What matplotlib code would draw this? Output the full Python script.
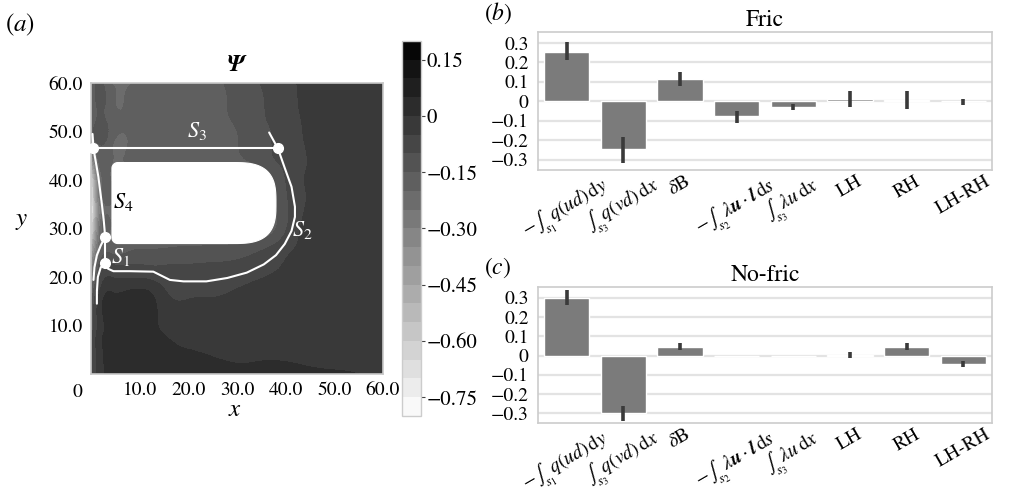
import numpy as np
import matplotlib
matplotlib.use("Agg")
import matplotlib.pyplot as plt
import matplotlib.tri as mtri
from matplotlib.patches import Polygon

plt.rcParams["font.family"] = ["STIXGeneral", "DejaVu Serif"]
plt.rcParams["mathtext.fontset"] = "stix"
plt.rcParams["axes.unicode_minus"] = True

# ---------------- panel (a): stream function field ----------------
grid_x = [0, 1.5, 4, 8, 12, 16, 20, 25, 30, 35, 40, 45, 50, 55, 60]
grid_y = [0, 4, 8, 12, 16, 19, 22, 26, 30, 35, 40, 44, 48, 52, 56, 60]

# rows follow grid_y (bottom to top), columns follow grid_x
psi_rows = [
    [-0.10, -0.03, 0.010, 0.020, 0.016, 0.014, 0.012, 0.010, 0.008, 0.008, 0.008, 0.006, 0.004, 0.000, -0.010],
    [-0.11, -0.03, 0.012, 0.022, 0.018, 0.012, 0.005, -0.002, -0.008, -0.006, -0.006, -0.010, -0.013, -0.016, -0.020],
    [-0.12, -0.03, 0.012, 0.022, 0.015, -0.004, -0.012, -0.017, -0.020, -0.020, -0.020, -0.020, -0.020, -0.020, -0.020],
    [-0.14, -0.035, 0.012, 0.022, 0.015, -0.020, -0.022, -0.022, -0.020, -0.020, -0.020, -0.020, -0.020, -0.020, -0.020],
    [-0.18, -0.05, 0.010, 0.020, 0.012, -0.048, -0.056, -0.052, -0.040, -0.030, -0.025, -0.020, -0.020, -0.020, -0.020],
    [-0.25, -0.10, -0.030, -0.035, -0.040, -0.072, -0.078, -0.072, -0.060, -0.045, -0.032, -0.023, -0.020, -0.020, -0.020],
    [-0.35, -0.15, -0.085, -0.090, -0.095, -0.095, -0.095, -0.092, -0.085, -0.068, -0.045, -0.030, -0.022, -0.020, -0.020],
    [-0.50, -0.25, -0.170, -0.160, -0.155, -0.150, -0.145, -0.140, -0.135, -0.110, -0.065, -0.033, -0.025, -0.022, -0.020],
    [-0.70, -0.30, -0.200, -0.200, -0.200, -0.200, -0.200, -0.200, -0.200, -0.200, -0.105, -0.030, -0.025, -0.022, -0.020],
    [-0.78, -0.35, -0.200, -0.200, -0.200, -0.200, -0.200, -0.200, -0.200, -0.200, -0.110, -0.043, -0.028, -0.022, -0.020],
    [-0.70, -0.30, -0.200, -0.200, -0.200, -0.200, -0.200, -0.200, -0.200, -0.200, -0.100, -0.045, -0.030, -0.022, -0.020],
    [-0.40, -0.20, -0.190, -0.180, -0.180, -0.180, -0.178, -0.172, -0.162, -0.128, -0.085, -0.047, -0.028, -0.022, -0.020],
    [-0.20, -0.14, -0.180, -0.195, -0.195, -0.190, -0.178, -0.168, -0.152, -0.118, -0.078, -0.043, -0.028, -0.022, -0.020],
    [-0.19, -0.14, -0.165, -0.180, -0.185, -0.175, -0.168, -0.162, -0.145, -0.110, -0.072, -0.040, -0.027, -0.022, -0.020],
    [-0.19, -0.14, -0.180, -0.185, -0.170, -0.168, -0.165, -0.160, -0.140, -0.105, -0.068, -0.037, -0.026, -0.022, -0.020],
    [-0.20, -0.14, -0.195, -0.205, -0.175, -0.170, -0.166, -0.158, -0.135, -0.098, -0.065, -0.035, -0.025, -0.022, -0.020],
]

psi_levels = np.arange(-0.80, 0.2001, 0.05)
cbar_ticks = [0.15, 0.0, -0.15, -0.30, -0.45, -0.60, -0.75]

# island (land) outline parameters
island_left, island_right = 4.3, 38.0
island_bottom, island_top = 26.9, 43.6

# sections S1..S4 and the streamline tails
s3_x = [0.5, 38.4]
s3_y = [46.5, 46.5]
s2_x = [36.6, 38.4, 39.8, 41.2, 41.9, 41.9, 41.2, 39.8, 38.0, 35.5, 32.0, 28.0, 23.7, 19.0, 16.2, 14.2, 12.8, 8.0, 4.6, 3.5, 2.9]
s2_y = [49.8, 46.5, 42.5, 38.6, 34.5, 32.4, 29.5, 26.8, 24.5, 22.6, 20.9, 19.8, 19.1, 19.1, 19.4, 20.4, 21.1, 21.2, 21.2, 21.7, 22.8]
s1_x = [2.9, 2.9]
s1_y = [22.8, 28.3]
s4_x = [2.9, 2.6, 2.2, 1.5, 0.5, 0.3]
s4_y = [28.3, 31.8, 35.2, 40.7, 46.5, 49.5]
tail_a_x = [2.9, 2.0, 1.2, 0.7, 0.5]
tail_a_y = [28.3, 26.5, 24.5, 22.0, 19.4]
tail_b_x = [2.9, 2.0, 1.4, 1.2, 1.2]
tail_b_y = [22.8, 22.0, 20.0, 17.0, 14.5]
node_x = [0.5, 38.4, 2.9, 2.9]
node_y = [46.5, 46.5, 28.3, 22.8]

section_labels = ["$S_1$", "$S_2$", "$S_3$", "$S_4$"]
section_label_x = [6.0, 43.4, 21.7, 6.6]
section_label_y = [24.2, 29.7, 50.2, 35.5]
section_label_colors = ["white", "white", "white", "black"]

# ---------------- panels (b), (c): budget terms ----------------
terms = [
    r"$-\int_{s_1}q(ud)\,\mathrm{d}y$",
    r"$\int_{s_3}q(vd)\,\mathrm{d}x$",
    r"$\delta$B",
    r"$-\int_{s_2}\lambda\mathbfit{u}\cdot\mathbfit{l}\,\mathrm{d}s$",
    r"$\int_{s_3}\lambda u\,\mathrm{d}x$",
    "LH",
    "RH",
    "LH-RH",
]
fric_mean = [0.255, -0.245, 0.113, -0.077, -0.030, 0.010, 0.007, 0.002]
fric_lo = [0.213, -0.317, 0.080, -0.113, -0.045, -0.030, -0.037, -0.017]
fric_hi = [0.303, -0.183, 0.153, -0.050, -0.013, 0.053, 0.053, 0.013]

nofric_mean = [0.300, -0.298, 0.045, 0.0, 0.0, 0.001, 0.045, -0.043]
nofric_lo = [0.262, -0.341, 0.029, np.nan, np.nan, -0.014, 0.029, -0.060]
nofric_hi = [0.340, -0.264, 0.064, np.nan, np.nan, 0.016, 0.064, -0.028]

bar_yticks = [0.3, 0.2, 0.1, 0.0, -0.1, -0.2, -0.3]


def fmt_tick(v, decimals):
    if abs(v) < 1e-9:
        return "0"
    s = f"{abs(v):.{decimals}f}"
    return ("\u2212" + s) if v < 0 else s


def island_outline():
    ry = (island_top - island_bottom) / 2.0
    rx = 9.0
    cx = island_right - rx
    cy = (island_top + island_bottom) / 2.0
    c = 1.2
    pts = []
    t = np.linspace(np.pi, 1.5 * np.pi, 12)
    pts += list(zip(island_left + c + c * np.cos(t), island_bottom + c + c * np.sin(t)))
    t = np.linspace(-np.pi / 2, np.pi / 2, 80)
    ct, st = np.cos(t), np.sin(t)
    n = 3.0
    ex = np.sign(ct) * np.abs(ct) ** (2.0 / n)
    ey = np.sign(st) * np.abs(st) ** (2.0 / n)
    pts += list(zip(cx + rx * ex, cy + ry * ey))
    t = np.linspace(0.5 * np.pi, np.pi, 12)
    pts += list(zip(island_left + c + c * np.cos(t), island_top - c + c * np.sin(t)))
    return np.array(pts)


fig = plt.figure(figsize=(10.23, 5.01), dpi=100)

ax_a = fig.add_axes([0.0890, 0.2535, 0.2854, 0.5808])
gx, gy = np.meshgrid(grid_x, grid_y)
psi = np.array(psi_rows)
triang = mtri.Triangulation(gx.ravel(), gy.ravel())
smooth = mtri.CubicTriInterpolator(triang, psi.ravel(), kind="min_E")
refiner = mtri.UniformTriRefiner(triang)
tri_fine, psi_fine = refiner.refine_field(psi.ravel(), triinterpolator=smooth, subdiv=3)
psi_fine = np.clip(psi_fine, psi_levels[0] + 1e-6, psi_levels[-1] - 1e-6)
cf = ax_a.tricontourf(tri_fine, psi_fine, levels=psi_levels, cmap="gray_r", zorder=1)
ax_a.add_patch(Polygon(island_outline(), closed=True, facecolor="white",
                       edgecolor="white", lw=0.8, zorder=2))

line_kw = dict(color="white", lw=1.5, zorder=4, solid_capstyle="round")
for px, py in [(s3_x, s3_y), (s2_x, s2_y), (s1_x, s1_y), (s4_x, s4_y),
               (tail_a_x, tail_a_y), (tail_b_x, tail_b_y)]:
    ax_a.plot(px, py, **line_kw)
ax_a.plot(node_x, node_y, "o", color="white", ms=7, zorder=5, clip_on=False)

for lab, lx, ly, lc in zip(section_labels, section_label_x, section_label_y, section_label_colors):
    ax_a.text(lx, ly, lab, color=lc, fontsize=16, ha="center", va="center", zorder=6)

ax_a.set_xlim(0, 60)
ax_a.set_ylim(0, 60)
ax_a.set_xticks([10, 20, 30, 40, 50, 60])
ax_a.set_xticklabels([f"{v:.1f}" for v in [10, 20, 30, 40, 50, 60]])
ax_a.set_yticks([10, 20, 30, 40, 50, 60])
ax_a.set_yticklabels([f"{v:.1f}" for v in [10, 20, 30, 40, 50, 60]])
ax_a.tick_params(length=0, labelsize=14, pad=6)
for sp in ax_a.spines.values():
    sp.set_color("#c8c8c8")
    sp.set_linewidth(1.2)
ax_a.text(-0.048, -0.062, "0", transform=ax_a.transAxes, fontsize=14,
          ha="center", va="center")
ax_a.text(0.5, 1.062, r"$\mathbfit{\Psi}$", transform=ax_a.transAxes,
          fontsize=17, ha="center", va="center")
ax_a.text(0.493, -0.125, "$x$", transform=ax_a.transAxes, fontsize=18,
          ha="center", va="center")
ax_a.text(-0.237, 0.529, "$y$", transform=ax_a.transAxes, fontsize=18,
          ha="center", va="center")

cax = fig.add_axes([0.393, 0.1697, 0.0186, 0.7485])
cb = fig.colorbar(cf, cax=cax, ticks=cbar_ticks)
cb.ax.set_yticklabels([fmt_tick(v, 2) for v in cbar_ticks])
cb.ax.tick_params(labelsize=15, length=3, width=0.8, pad=1, color="#444444")
cb.outline.set_edgecolor("#cccccc")
cb.outline.set_linewidth(1.0)

fig.text(0.0196, 0.950, "($a$)", fontsize=18, ha="center", va="center")


def draw_bars(ax, means, lo, hi, title):
    pos = np.arange(len(terms))
    ax.bar(pos, means, width=0.8, color="#7b7b7b", edgecolor="white",
           linewidth=1.0, zorder=2)
    ax.vlines(pos, lo, hi, color="#3a3a3a", lw=2.6, zorder=3)
    ax.set_xlim(-0.5, len(terms) - 0.5)
    ax.set_ylim(-0.352, 0.358)
    ax.set_yticks(bar_yticks)
    ax.set_yticklabels([fmt_tick(v, 1) for v in bar_yticks])
    ax.set_xticks(pos)
    ax.set_xticklabels(terms, rotation=30, ha="center")
    ax.yaxis.grid(True, color="#e3e3e3", lw=1.6, zorder=0)
    ax.set_axisbelow(True)
    ax.tick_params(axis="y", length=0, labelsize=14, pad=7)
    ax.tick_params(axis="x", length=0, labelsize=14, pad=2)
    for sp in ax.spines.values():
        sp.set_color("#cccccc")
        sp.set_linewidth(1.2)
    ax.set_title(title, fontsize=17, pad=4)


ax_b = fig.add_axes([0.5262, 0.6607, 0.4432, 0.2761])
draw_bars(ax_b, fric_mean, fric_lo, fric_hi, "Fric")
fig.text(0.4868, 0.974, "($b$)", fontsize=17, ha="center", va="center")

ax_c = fig.add_axes([0.5262, 0.1551, 0.4432, 0.2727])
draw_bars(ax_c, nofric_mean, nofric_lo, nofric_hi, "No-fric")
fig.text(0.4868, 0.466, "($c$)", fontsize=17, ha="center", va="center")

fig.savefig("out.png", dpi=100, facecolor="white")
